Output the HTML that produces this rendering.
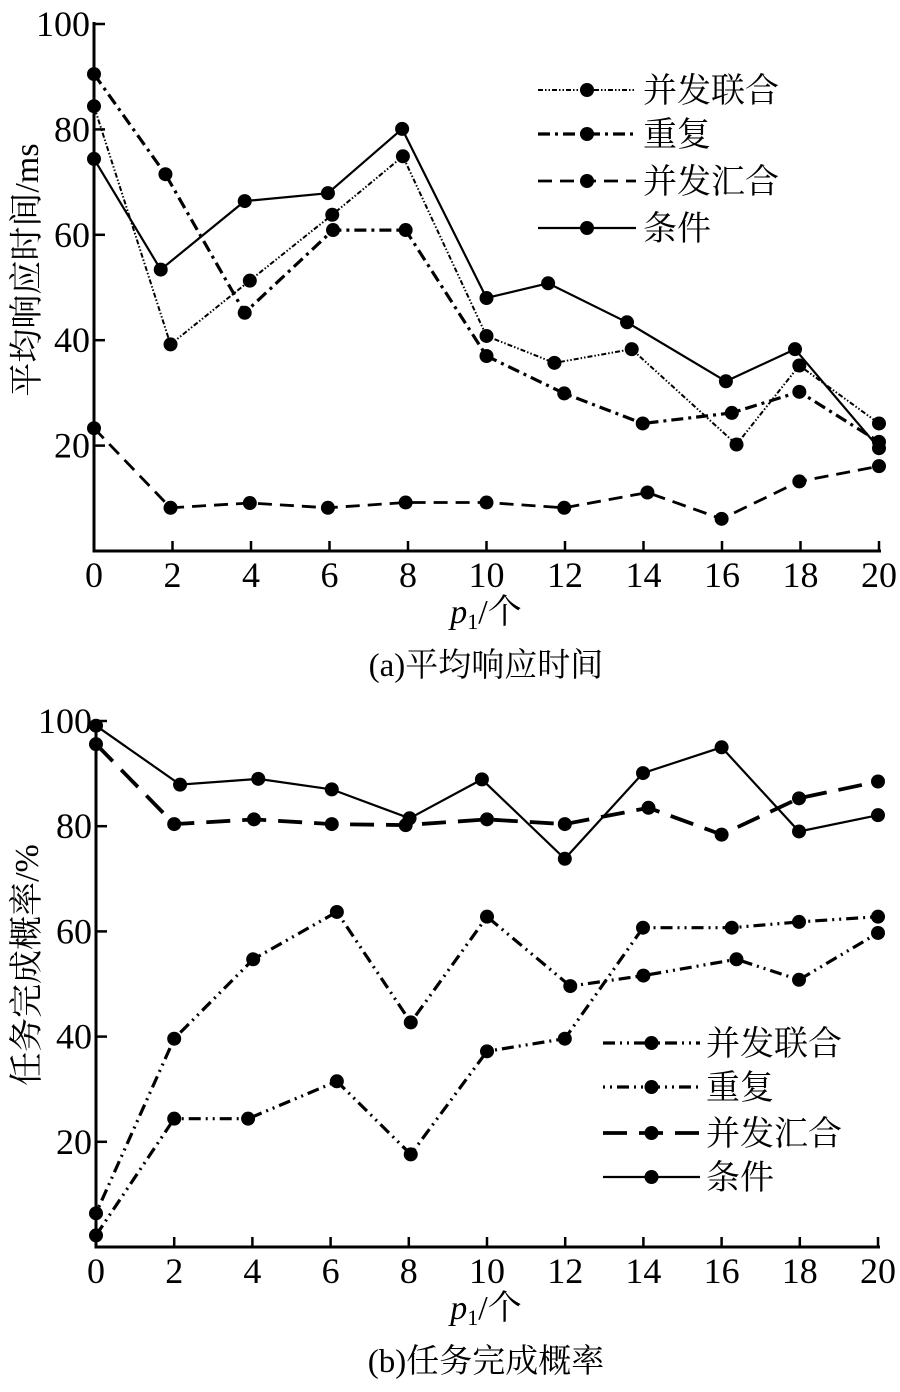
<!DOCTYPE html>
<html><head><meta charset="utf-8"><style>
html,body{margin:0;padding:0;background:#fff;}
svg text{font-family:"Liberation Serif","Noto Serif CJK SC","Noto Sans CJK SC",serif;fill:#000;}
</style></head><body>
<svg id="chart" width="900" height="1387" viewBox="0 0 900 1387" xmlns="http://www.w3.org/2000/svg"></svg>
<script>
const xTicks = [0,2,4,6,8,10,12,14,16,18,20];
const yTicks = [20,40,60,80,100];
const seriesNames = ["并发联合","重复","并发汇合","条件"];
// chart a
const aX_bflh = [0,1.95,3.97,6.07,7.87,10,11.73,13.7,16.37,17.97,20];
const aY_bflh = [84.4,39.2,51.3,63.8,74.9,40.8,35.7,38.3,20.2,35.2,24.2];
const aX_cf = [0,1.82,3.84,6.09,7.94,10,11.98,13.98,16.25,17.97,20];
const aY_cf = [90.5,71.5,45.2,60.9,60.9,37.0,29.9,24.2,26.2,30.2,20.7];
const aX_bfhh = [0,1.95,3.97,5.96,7.94,10,11.98,14.1,15.99,17.97,20];
const aY_bfhh = [23.3,8.2,9.1,8.2,9.2,9.2,8.2,11.1,6.1,13.2,16.1];
const aX_tj = [0,1.7,3.84,5.96,7.85,10,11.57,13.58,16.1,17.86,20];
const aY_tj = [74.4,53.4,66.4,67.9,80.1,48.0,50.8,43.4,32.2,38.3,19.5];
// chart b
const bX_bflh = [0,2,3.89,6.16,8.05,10,11.99,13.99,16.26,17.98,20];
const bY_bflh = [2.2,24.4,24.4,31.5,17.6,37.2,39.6,60.7,60.7,61.8,62.8];
const bX_cf = [0,2,4.02,6.16,8.05,10,12.13,14.0,16.38,17.98,20];
const bY_cf = [6.4,39.6,54.7,63.7,42.7,62.8,49.6,51.6,54.7,50.8,59.7];
const bX_bfhh = [0,2,4.04,6.03,7.92,10,11.99,14.13,16,17.98,20];
const bY_bfhh = [95.6,80.4,81.3,80.4,80.2,81.3,80.4,83.5,78.4,85.3,88.5];
const bX_tj = [0,2.15,4.15,6.03,8.02,9.87,11.99,13.99,16.0,17.98,20];
const bY_tj = [99.1,87.9,89.0,87.0,81.5,88.9,73.8,90.1,95.0,79.0,82.1];

const NS="http://www.w3.org/2000/svg";
const svg=document.getElementById('chart');
function mk(tag,attrs,parent){const e=document.createElementNS(NS,tag);for(const k in attrs)e.setAttribute(k,attrs[k]);(parent||svg).appendChild(e);return e;}

function drawChart(cfg){
  const g=mk('g',{});
  
  
  const sx=v=>cfg.x0+(cfg.x1-cfg.x0)*v/20;
  const sy=v=>cfg.y0-(cfg.y0-cfg.y100)*v/100;
  const ax=mk('path',{d:`M${sx(0)} ${cfg.y100-2} L${sx(0)} ${sy(0)} L${sx(20)+2} ${sy(0)}`,fill:'none',stroke:'#000','stroke-width':3},g);
  
  
  xTicks.forEach(t=>{
    mk('line',{x1:sx(t),x2:sx(t),y1:sy(0),y2:sy(0)-10,stroke:'#000','stroke-width':2.5},g);
    const tx=mk('text',{x:sx(t),y:sy(0)+36,'text-anchor':'middle','font-size':36},g);
    tx.textContent=t;
    
    
  });
  yTicks.forEach(t=>{
    mk('line',{x1:sx(0),x2:sx(0)+11,y1:sy(t),y2:sy(t),stroke:'#000','stroke-width':2.5},g);
    const tx=mk('text',{x:sx(0)-4,y:sy(t)+12,'text-anchor':'end','font-size':36},g);
    tx.textContent=t;
    
    
  });
  const yl=mk('text',{x:0,y:0,'text-anchor':'middle','font-size':34,transform:`translate(${cfg.ylx},${cfg.yly}) rotate(-90)`},g);
  yl.textContent=cfg.ylabel;
  
  
  const xl=mk('text',{x:486,y:sy(0)+72,'text-anchor':'middle','font-size':34},g);
  xl.innerHTML='<tspan font-style="italic">p</tspan><tspan font-size="22" dy="6">1</tspan><tspan dy="-6">/个</tspan>';
  
  
  const tt=mk('text',{x:486,y:sy(0)+125,'text-anchor':'middle','font-size':33},g);
  tt.textContent=cfg.title;
  
  
  cfg.series.forEach((s,i)=>{
    const d=s.xs.map((x,j)=>(j?'L':'M')+sx(x).toFixed(1)+' '+sy(s.ys[j]).toFixed(1)).join(' ');
    const p=mk('path',{d:d,fill:'none',stroke:'#000','stroke-width':s.w,'stroke-dasharray':s.dash},g);
    
    
    s.xs.forEach((x,j)=>{
      const c=mk('circle',{cx:sx(x),cy:sy(s.ys[j]),r:7,fill:'#000'},g);
      
      
    });
    const L=cfg.legend;
    const ly=L.ys[i];
    const ll=mk('line',{x1:L.x1,x2:L.x2,y1:ly,y2:ly,stroke:'#000','stroke-width':s.w,'stroke-dasharray':s.dash},g);
    
    
    mk('circle',{cx:(L.x1+L.x2)/2,cy:ly,r:7,fill:'#000'},g);
    const lt=mk('text',{x:L.tx,y:ly+12,'font-size':34},g);
    lt.textContent=seriesNames[i];
    
    
  });
}

drawChart({name:'chart-a-response-time',x0:94,x1:879,y0:551,y100:24,ylabel:'平均响应时间/ms',ylx:38,yly:270,title:'(a)平均响应时间',
  legend:{x1:538,x2:636,tx:643,ys:[90,134,181,228]},
  series:[
    {xs:aX_bflh,ys:aY_bflh,dash:'5 2 1.5 2 1.5 2',w:2},
    {xs:aX_cf,ys:aY_cf,dash:'12 5 3 5',w:3.2},
    {xs:aX_bfhh,ys:aY_bfhh,dash:'14 8',w:2.8},
    {xs:aX_tj,ys:aY_tj,dash:'none',w:2.2}
  ]});
drawChart({name:'chart-b-completion-rate',x0:96,x1:878,y0:1247,y100:721,ylabel:'任务完成概率/%',ylx:38,yly:965,title:'(b)任务完成概率',
  legend:{x1:603,x2:700,tx:706,ys:[1043,1087,1133,1177]},
  series:[
    {xs:bX_bflh,ys:bY_bflh,dash:'12 5 2 5 2 5',w:3.2},
    {xs:bX_cf,ys:bY_cf,dash:'2 5 2 5 12 5',w:3.2},
    {xs:bX_bfhh,ys:bY_bfhh,dash:'24 12',w:3.8},
    {xs:bX_tj,ys:bY_tj,dash:'none',w:2.2}
  ]});
</script>
</body></html>
